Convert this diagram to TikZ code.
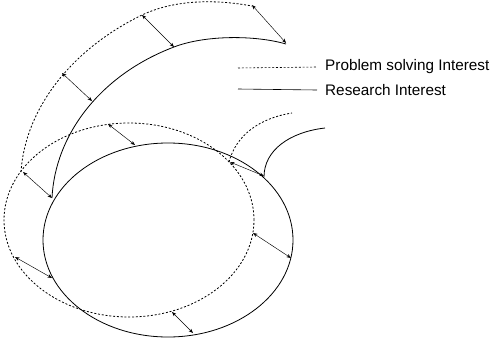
\documentclass[tikz,border=0pt]{standalone}
\usepackage{fontspec}
\setmainfont{Liberation Sans}
\usetikzlibrary{arrows.meta}

\begin{document}
\begin{tikzpicture}[
            x=1pt, y=-1pt,
            every node/.style={ font=\fontsize{15.3}{18}\selectfont, inner sep=0pt },
            research/.style={ line width=0.8pt },
            problem/.style={ line width=0.8pt, dash pattern=on 2pt off 1.8pt },
            gap/.style={ <->, line width=0.45pt, >={Stealth[length=4.5pt,width=3.5pt]} }
        ]
        \useasboundingbox (0,0) rectangle (493,338);

        % the two rings
        \draw[problem]  (129,220) ellipse [x radius=125pt, y radius=97pt];
        \draw[research] (168,240) ellipse [x radius=125pt, y radius=97pt];

        % big outer arcs
        \draw[problem] (21,172) .. controls (25,110) and (70,50) .. (142,15)
                                .. controls (180,-3) and (225,1) .. (252,6);
        \draw[research] (52,198) .. controls (55,135) and (100,75) .. (174,47)
                                 .. controls (205,35) and (255,35) .. (286,44);

        % small arcs on the right
        \draw[problem] (229,162) .. controls (236,135) and (260,118) .. (292,113);
        \draw[research] (264,177) .. controls (264,150) and (290,132) .. (325,128);

        % ends of the gaps
        \coordinate (p1) at (252,5);   \coordinate (r1) at (286,43);
        \coordinate (p2) at (142,15);  \coordinate (r2) at (174,47);
        \coordinate (p3) at (62,73);   \coordinate (r3) at (92,101);
        \coordinate (p4) at (108,124); \coordinate (r4) at (135,145);
        \coordinate (p5) at (23,172);  \coordinate (r5) at (52,198);
        \coordinate (p6) at (15,257);  \coordinate (r6) at (52,278);
        \coordinate (p7) at (172,312); \coordinate (r7) at (193,333);
        \coordinate (p8) at (253,233); \coordinate (r8) at (291,258);
        \coordinate (p9) at (230,162); \coordinate (r9) at (264,176);

        \foreach \i in {1,...,9}
            \draw[gap] (p\i) -- (r\i);

        % legend
        \coordinate (lp) at (238,68);
        \coordinate (lr) at (238,89);
        \node[anchor=west] (ptext) at (325,67) {Problem solving Interest};
        \node[anchor=west] (rtext) at (325,90) {Research Interest};
        \draw[problem, line width=0.6pt]  (lp) -- (ptext.west -| 317,0);
        \draw[research, line width=0.6pt] (lr) -- (rtext.west -| 317,0);
    \end{tikzpicture}
\end{document}
